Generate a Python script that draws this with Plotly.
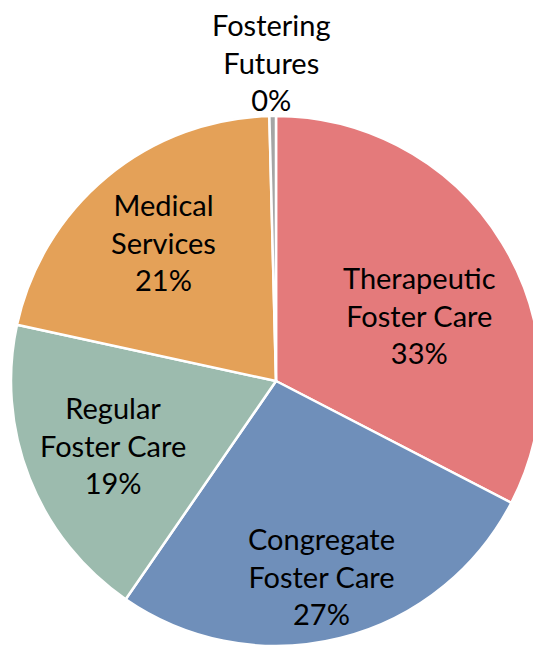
import math
import plotly.graph_objects as go

categories = ["Therapeutic Foster Care", "Congregate Foster Care", "Regular Foster Care",
              "Medical Services", "Fostering Futures"]
display_labels = ["Therapeutic<br>Foster Care", "Congregate<br>Foster Care", "Regular<br>Foster Care",
                  "Medical<br>Services", "Fostering<br>Futures"]
values = [32.6, 27.0, 18.8, 21.2, 0.4]
colors = ["#E47A7B", "#6F8FBA", "#9CBBAE", "#E4A158", "#A5A5A5"]

# label placement: fraction of radius from centre, and angular nudge (degrees)
label_radius = [0.595, 0.755, 0.66, 0.675, 1.205]
label_angle_shift = [6.5, 1.0, 0.0, 0.5, 0.0]

W, H = 541, 651
# pie centre/radius in figure pixels (page position minus the 8px body margin)
cx_px, cy_px, R_px = 268.0, 373.0, 265.0
dom_x = [(cx_px - R_px) / W, min(1.0, (cx_px + R_px) / W)]
dom_y = [max(0.0, 1 - (cy_px + R_px) / H), 1 - (cy_px - R_px) / H]

fig = go.Figure(go.Pie(
    labels=categories,
    values=values,
    textinfo="none",
    sort=False,
    direction="clockwise",
    rotation=0,
    marker=dict(colors=colors, line=dict(color="white", width=2.5)),
    showlegend=False,
    domain=dict(x=dom_x, y=dom_y),
    hoverinfo="label+percent",
))

total = sum(values)
cum = 0.0
annotations = []
for lab, v, rf, da in zip(display_labels, values, label_radius, label_angle_shift):
    mid = (cum + v / 2) / total * 2 * math.pi + math.radians(da)
    cum += v
    x = cx_px + rf * R_px * math.sin(mid)
    y = cy_px - rf * R_px * math.cos(mid)
    pct = round(v / total * 100)
    annotations.append(dict(
        x=x / W, y=1 - y / H, xref="paper", yref="paper",
        text=f"{lab}<br>{pct}%", showarrow=False, align="center",
        xanchor="center", yanchor="middle",
        font=dict(family="Lato, Open Sans, sans-serif", size=29, color="black"),
    ))

fig.update_layout(
    width=W, height=H,
    margin=dict(l=0, r=0, t=0, b=0),
    paper_bgcolor="white",
    plot_bgcolor="white",
    annotations=annotations,
)

fig.write_html("out.html")
